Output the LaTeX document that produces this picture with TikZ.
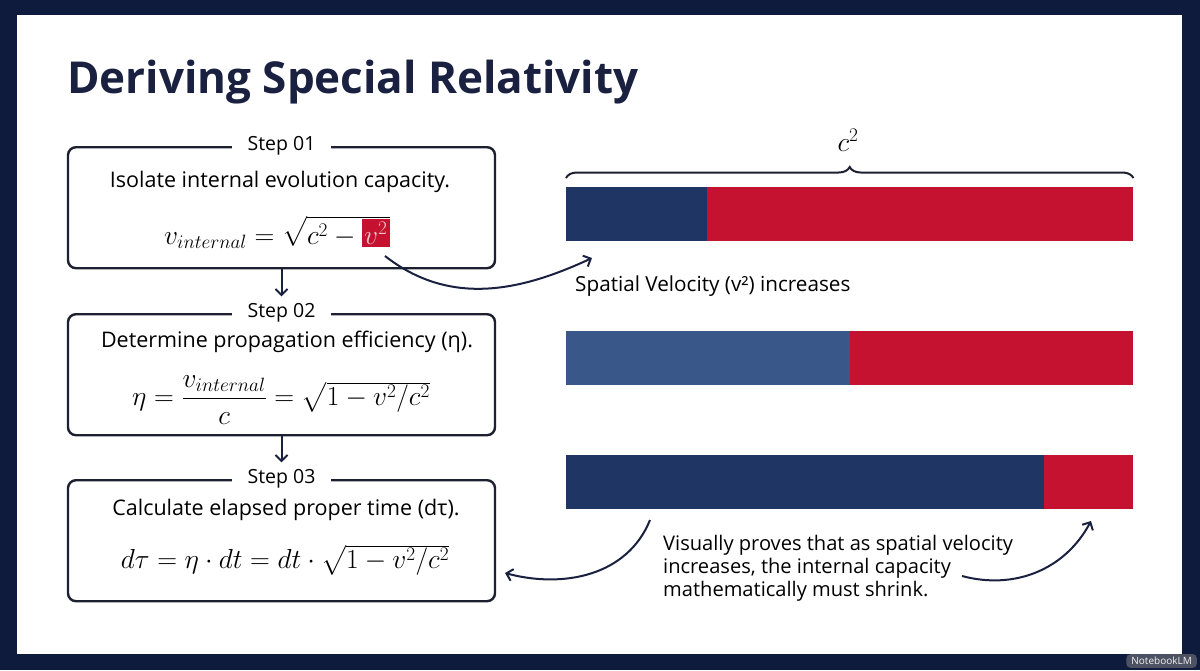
\documentclass[tikz,border=0pt]{standalone}
\usepackage{fix-cm}
\usepackage{amsmath}
\usepackage{fontspec}
\setmainfont{Open Sans}
\usetikzlibrary{arrows.meta,decorations.pathreplacing,calc}
\definecolor{framecol}{HTML}{0F1B3D}
\definecolor{titlecol}{HTML}{1A2140}
\definecolor{inkcol}{HTML}{1C2030}
\definecolor{navybar}{HTML}{1F3563}
\definecolor{midbar}{HTML}{3A578A}
\definecolor{redbar}{HTML}{C41230}
\newcommand{\hlv}[1]{{\setlength{\fboxsep}{2.5pt}\colorbox{redbar}{$\color{white!75!redbar}#1$}}}
\tikzset{
  stepbox/.style={draw=inkcol, line width=2.4pt, rounded corners=8pt, minimum width=427pt, anchor=north},
  steplabel/.style={fill=white, inner xsep=16pt, inner ysep=2pt, font=\fontsize{19.5}{22}\selectfont, text=black},
  bodytext/.style={font=\fontsize{21.5}{24}\selectfont, text=black},
  mathtext/.style={font=\fontsize{27.5}{30}\selectfont, text=black},
  conn/.style={draw=titlecol, line width=2pt, -{Straight Barb[length=6pt,width=12pt,line width=2pt]}},
  barpart/.style={anchor=north west, inner sep=0pt, minimum height=54pt},
}
\begin{document}
\begin{tikzpicture}[x=1pt,y=-1pt]
\useasboundingbox (0,0) rectangle (1200,670);
\fill[framecol] (0,0) rectangle (1200,670);
\fill[white] (17,15) rectangle (1182,654);

% title
\node[anchor=base west, inner sep=0pt, font=\fontsize{44}{50}\selectfont\bfseries, text=titlecol] (title) at (67,93) {Deriving Special Relativity};

% step boxes
\node[stepbox, minimum height=121pt] (box1) at (281.5,146) {};
\node[stepbox, minimum height=121pt] (box2) at (281.5,313) {};
\node[stepbox, minimum height=121pt] (box3) at (281.5,479) {};

\node[steplabel] (s1) at (box1.north) {Step 01};
\node[steplabel] (s2) at (box2.north) {Step 02};
\node[steplabel] (s3) at (box3.north) {Step 03};

\node[bodytext] (t1) at (280,182) {Isolate internal evolution capacity.};
\node[bodytext] (t2) at (287,342) {Determine propagation efficiency (η).};
\node[bodytext] (t3) at (286,510) {Calculate elapsed proper time (dτ).};

\node[mathtext] (f1) at (277,232) {$v_{internal} = \sqrt{c^2 - \hlv{v^2}}$};
\node[mathtext, inner sep=0pt] (f2) at (281,400) {$\eta = \dfrac{v_{internal}}{c} = \sqrt{1 - v^2/c^2}$};
\node[mathtext] (f3) at (285,560) {$d\tau = \eta\cdot dt = dt\cdot\sqrt{1 - v^2/c^2}$};

\draw[conn] (box1.south) -- ($(s2.north)+(0,-5)$);
\draw[conn] (box2.south) -- ($(s3.north)+(0,-5)$);

% bars
\node[barpart, fill=navybar, minimum width=141pt] (b1a) at (566,187) {};
\node[barpart, fill=redbar, minimum width=426pt] (b1b) at (707,187) {};
\node[barpart, fill=midbar, minimum width=284pt] (b2a) at (566,331) {};
\node[barpart, fill=redbar, minimum width=283pt] (b2b) at (850,331) {};
\node[barpart, fill=navybar, minimum width=478pt] (b3a) at (566,455) {};
\node[barpart, fill=redbar, minimum width=89pt] (b3b) at (1044,455) {};

% brace
\draw[inkcol, line width=2pt, decorate, decoration={brace, amplitude=11pt, aspect=0.5}] ($(b1a.north west)+(0,-9)$) coordinate (brl) -- ($(b1b.north east)+(0,-9)$) coordinate (brr);
\node[mathtext] (c2) at (848,140) {$c^2$};

% side texts
\node[anchor=west, font=\fontsize{20.7}{24}\selectfont, text=black, inner sep=0pt] (sv) at (575,286) {Spatial Velocity (v²) increases};
\node[anchor=north west, align=left, font=\fontsize{20.1}{23}\selectfont, text=black, inner sep=0pt] (vp) at (663,535) {Visually proves that as spatial velocity\\increases, the internal capacity\\mathematically must shrink.};

% curved connectors
\coordinate (hlv) at (385,256);
\coordinate (svtip) at (592,258);
\draw[conn] (hlv) to[out=-38, in=205] (svtip);

\coordinate (b3start) at (650,520);
\coordinate (box3tip) at (505,573);
\draw[conn] (b3start) to[out=-112, in=-15] (box3tip);

\coordinate (vpstart) at (962,576);
\coordinate (b3tip) at (1091,521);
\draw[conn] (vpstart) to[out=-15, in=-118] (b3tip);

% watermark
\node[fill=gray!55!framecol, rounded corners=4pt, text=white!90!gray, font=\fontsize{10}{12}\selectfont, inner xsep=5pt, inner ysep=3pt, anchor=south east] (wm) at (1197,668) {NotebookLM};
\end{tikzpicture}
\end{document}
